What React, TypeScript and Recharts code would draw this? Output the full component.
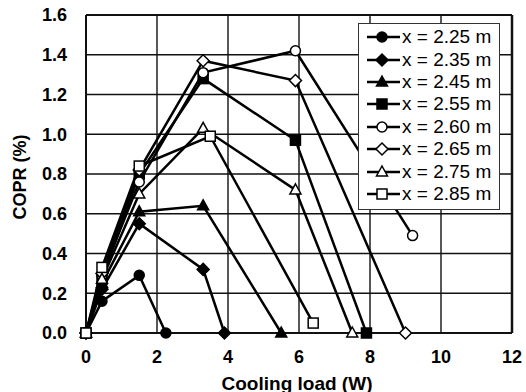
import React from 'react';
import { LineChart, Line, XAxis, YAxis, CartesianGrid, ReferenceLine } from 'recharts';

// cooling load (W) / COPR (%) pairs per probe position
const s225 = [
  { x: 0, y: 0 }, { x: 0.45, y: 0.16 }, { x: 1.5, y: 0.29 }, { x: 2.25, y: 0 },
];
const s235 = [
  { x: 0, y: 0 }, { x: 0.45, y: 0.22 }, { x: 1.5, y: 0.55 }, { x: 3.3, y: 0.32 }, { x: 3.9, y: 0 },
];
const s245 = [
  { x: 0, y: 0 }, { x: 0.45, y: 0.25 }, { x: 1.5, y: 0.61 }, { x: 3.3, y: 0.64 }, { x: 5.5, y: 0 },
];
const s255 = [
  { x: 0, y: 0 }, { x: 0.45, y: 0.27 }, { x: 1.5, y: 0.8 }, { x: 3.3, y: 1.28 }, { x: 5.9, y: 0.97 }, { x: 7.9, y: 0 },
];
const s260 = [
  { x: 0, y: 0 }, { x: 0.45, y: 0.29 }, { x: 1.5, y: 0.76 }, { x: 3.3, y: 1.31 }, { x: 5.9, y: 1.42 }, { x: 9.2, y: 0.49 },
];
const s265 = [
  { x: 0, y: 0 }, { x: 0.45, y: 0.3 }, { x: 1.5, y: 0.82 }, { x: 3.3, y: 1.37 }, { x: 5.9, y: 1.27 }, { x: 9.0, y: 0 },
];
const s275 = [
  { x: 0, y: 0 }, { x: 0.45, y: 0.27 }, { x: 1.5, y: 0.7 }, { x: 3.3, y: 1.03 }, { x: 5.9, y: 0.72 }, { x: 7.5, y: 0 },
];
const s285 = [
  { x: 0, y: 0 }, { x: 0.45, y: 0.33 }, { x: 1.5, y: 0.84 }, { x: 3.5, y: 0.99 }, { x: 6.4, y: 0.05 },
];

const xTicks = [0, 2, 4, 6, 8, 10, 12];
const yTicks = [0, 0.2, 0.4, 0.6, 0.8, 1.0, 1.2, 1.4, 1.6];

type Shape = 'circle' | 'diamond' | 'triangle' | 'square';

const series: { name: string; shape: Shape; filled: boolean; data: { x: number; y: number }[] }[] = [
  { name: 'x = 2.25 m', shape: 'circle', filled: true, data: s225 },
  { name: 'x = 2.35 m', shape: 'diamond', filled: true, data: s235 },
  { name: 'x = 2.45 m', shape: 'triangle', filled: true, data: s245 },
  { name: 'x = 2.55 m', shape: 'square', filled: true, data: s255 },
  { name: 'x = 2.60 m', shape: 'circle', filled: false, data: s260 },
  { name: 'x = 2.65 m', shape: 'diamond', filled: false, data: s265 },
  { name: 'x = 2.75 m', shape: 'triangle', filled: false, data: s275 },
  { name: 'x = 2.85 m', shape: 'square', filled: false, data: s285 },
];

const FONT = '"Liberation Sans", Arial, sans-serif';

function Marker({ cx, cy, shape, filled }: { cx: number; cy: number; shape: Shape; filled: boolean }) {
  const fill = filled ? '#000' : '#fff';
  const common = { fill, stroke: '#000', strokeWidth: 1.5 };
  if (shape === 'circle') return <circle cx={cx} cy={cy} r={5} {...common} />;
  if (shape === 'square') return <rect x={cx - 5} y={cy - 5} width={10} height={10} {...common} />;
  if (shape === 'diamond')
    return <polygon points={`${cx},${cy - 6} ${cx + 6},${cy} ${cx},${cy + 6} ${cx - 6},${cy}`} {...common} />;
  return <polygon points={`${cx},${cy - 6} ${cx + 5.5},${cy + 4} ${cx - 5.5},${cy + 4}`} {...common} />;
}

const LegendBox = () => (
  <div
    style={{
      position: 'absolute',
      left: 358,
      top: 23,
      background: '#fff',
      border: '1.5px solid #333',
      padding: '2px 8px 4px 7px',
      fontFamily: FONT,
      fontSize: 19,
      color: '#000',
    }}
  >
    {series.map((s) => (
      <div key={s.name} style={{ display: 'flex', alignItems: 'center', height: 22.4 }}>
        <svg width={35} height={16} style={{ marginRight: 1 }}>
          <line x1={1} y1={8} x2={34} y2={8} stroke="#000" strokeWidth={2.5} />
          <Marker cx={16} cy={8} shape={s.shape} filled={s.filled} />
        </svg>
        <span style={{ whiteSpace: 'nowrap' }}>{s.name}</span>
      </div>
    ))}
  </div>
);

export default function App() {
  return (
    <div style={{ position: 'absolute', left: 0, top: 0, width: 526, height: 392, background: '#fff' }}>
      <LineChart width={526} height={392} margin={{ top: 15, right: 14, bottom: 0, left: 0 }}>
        <CartesianGrid stroke="#111" strokeWidth={1.4} />
        <XAxis
          dataKey="x"
          type="number"
          domain={[0, 12]}
          ticks={xTicks}
          height={59}
          tickSize={0}
          tickMargin={17}
          stroke="#111"
          strokeWidth={2}
          tick={{ fill: '#000', fontSize: 18, fontWeight: 'bold', fontFamily: FONT }}
          label={() => (
            <text x={297} y={390} textAnchor="middle" fontSize={19} fontWeight="bold" fontFamily={FONT} fill="#000">
              Cooling load (W)
            </text>
          )}
        />
        <YAxis
          type="number"
          domain={[0, 1.6]}
          ticks={yTicks}
          width={86}
          tickSize={0}
          tickMargin={19}
          stroke="#111"
          strokeWidth={2}
          tickFormatter={(v: number) => v.toFixed(1)}
          tick={{ fill: '#000', fontSize: 18, fontWeight: 'bold', fontFamily: FONT }}
          label={() => (
            <text
              x={20}
              y={177}
              transform="rotate(-90 20 177)"
              textAnchor="middle"
              dominantBaseline="central"
              fontSize={18}
              fontWeight="bold"
              fontFamily={FONT}
              fill="#000"
            >
              COPR (%)
            </text>
          )}
        />
        <ReferenceLine x={12} stroke="#111" strokeWidth={2.5} />
        <ReferenceLine y={1.6} stroke="#111" strokeWidth={2} />
        {series.map((s) => (
          <Line
            key={s.name}
            data={s.data}
            dataKey="y"
            name={s.name}
            stroke="#000"
            strokeWidth={2.5}
            isAnimationActive={false}
            dot={(p: any) => (
              <Marker key={`${s.name}-${p.index}`} cx={p.cx} cy={p.cy} shape={s.shape} filled={s.filled} />
            )}
            activeDot={false}
          />
        ))}
      </LineChart>
      <LegendBox />
    </div>
  );
}
